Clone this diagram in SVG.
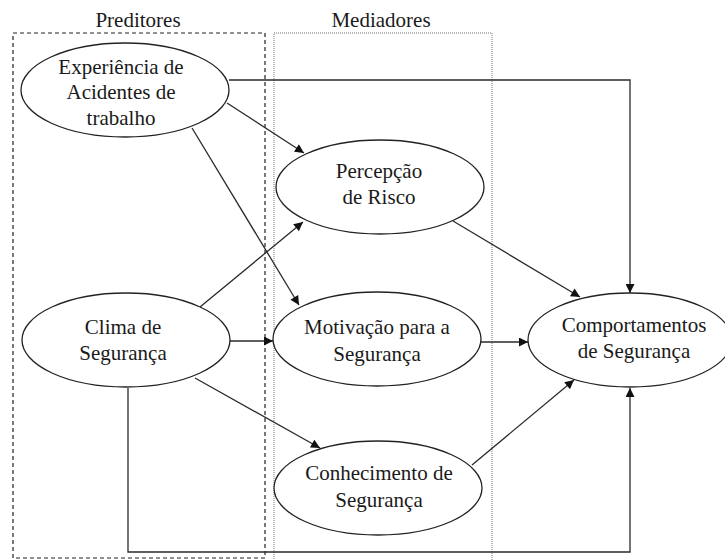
<svg xmlns="http://www.w3.org/2000/svg" width="725" height="560" viewBox="0 0 725 560">
<style>
text{font-family:"Liberation Serif","Times New Roman",serif;font-size:21px;fill:#1a1a1a;text-anchor:middle}
.node ellipse{fill:#fff;stroke:#222;stroke-width:1.3}
.conn path{fill:none;stroke:#2a2a2a;stroke-width:1.3}
.arr{marker-end:url(#ah)}
</style>
<defs>
<marker id="ah" viewBox="0 0 10 10" refX="10" refY="5" markerWidth="10" markerHeight="9" markerUnits="userSpaceOnUse" orient="auto">
<path d="M0,0 L10,5 L0,10 z" fill="#111"/>
</marker>
</defs>
<rect width="725" height="560" fill="#fff"/>
<g id="groups">
<rect x="13" y="33" width="252" height="525" fill="none" stroke="#222" stroke-width="1.2" stroke-dasharray="4,3"/>
<rect x="274" y="33" width="218" height="535" fill="none" stroke="#777" stroke-width="1" stroke-dasharray="1,1"/>
<text x="138" y="27">Preditores</text>
<text x="381" y="27">Mediadores</text>
</g>
<g class="conn" id="connectors">
<path d="M229,80 H630 V293" class="arr"/>
<path d="M227,103 L304,153" class="arr"/>
<path d="M192,128 L299,305" class="arr"/>
<path d="M200,307 L303,222" class="arr"/>
<path d="M229,341 L273,341" class="arr"/>
<path d="M195,378 L320,448" class="arr"/>
<path d="M128,388 V552 H630 V388" class="arr"/>
<path d="M453,221 L580,297" class="arr"/>
<path d="M481,342 L528,342" class="arr"/>
<path d="M472,465 L574,380" class="arr"/>
</g>
<g class="node" id="experiencia">
<ellipse cx="125" cy="90" rx="104" ry="47"/>
<text x="121" y="74">Experiência de</text>
<text x="121" y="99">Acidentes de</text>
<text x="121" y="125">trabalho</text>
</g>
<g class="node" id="clima">
<ellipse cx="126" cy="340" rx="104" ry="47"/>
<text x="123" y="334">Clima de</text>
<text x="123" y="360">Segurança</text>
</g>
<g class="node" id="percepcao">
<ellipse cx="380" cy="187" rx="104" ry="47"/>
<text x="379" y="178">Percepção</text>
<text x="379" y="204">de Risco</text>
</g>
<g class="node" id="motivacao">
<ellipse cx="377" cy="339" rx="104" ry="47"/>
<text x="377" y="334">Motivação para a</text>
<text x="377" y="361">Segurança</text>
</g>
<g class="node" id="conhecimento">
<ellipse cx="378" cy="488" rx="104" ry="47"/>
<text x="379" y="480">Conhecimento de</text>
<text x="379" y="507">Segurança</text>
</g>
<g class="node" id="comportamentos">
<ellipse cx="630" cy="340" rx="102" ry="47"/>
<text x="634" y="332">Comportamentos</text>
<text x="634" y="358">de Segurança</text>
</g>
</svg>
